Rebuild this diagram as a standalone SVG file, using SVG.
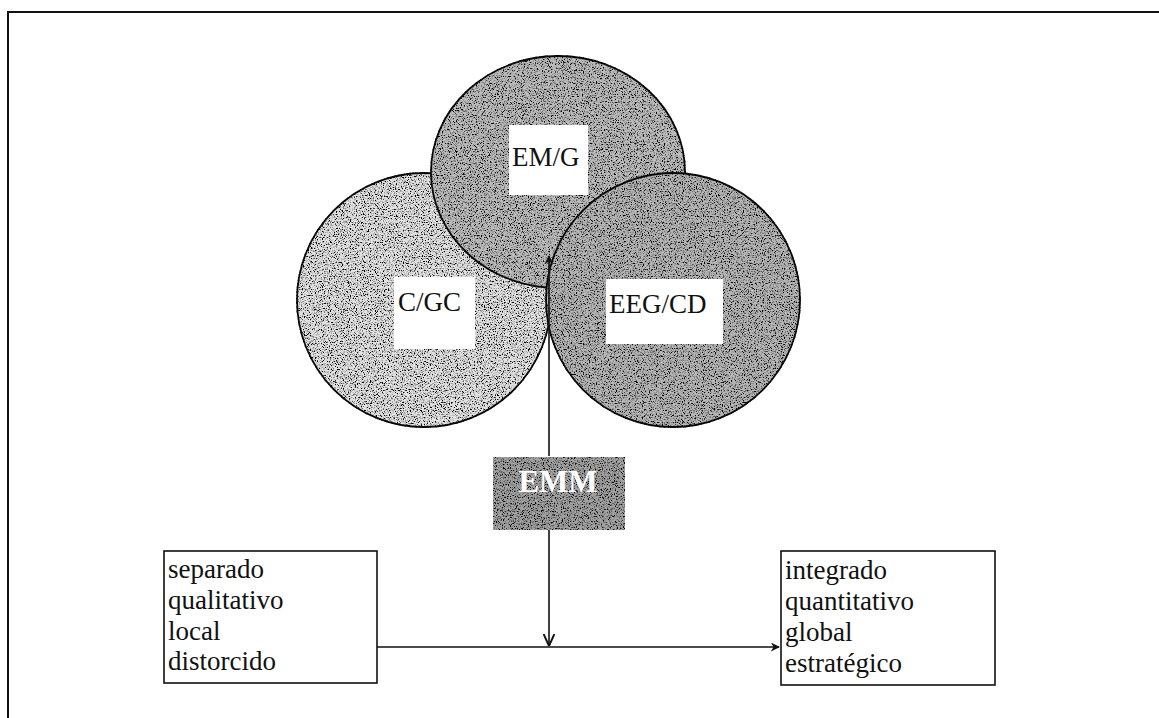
<svg xmlns="http://www.w3.org/2000/svg" width="1159" height="718" viewBox="0 0 1159 718">
  <style>
    .lbl { font-family: "Liberation Serif", "Times New Roman", serif; font-size: 27px; fill: #111; }
    .box { fill: #ffffff; stroke: #111; stroke-width: 1.6; }
    .tag { fill: #ffffff; stroke: none; }
    .ring { stroke: #111; stroke-width: 1.8; }
    .wire { fill: none; stroke: #111; stroke-width: 1.6; }
    .emm { font-family: "Liberation Serif", "Times New Roman", serif; font-size: 31px; font-weight: bold; fill: #ffffff; }
  </style>
  <defs>
    <!-- speckled print texture for the shaded shapes -->
    <filter id="grain" x="-2%" y="-2%" width="104%" height="104%">
      <feTurbulence type="fractalNoise" baseFrequency="0.85" numOctaves="2" seed="7" result="noise"/>
      <feColorMatrix in="noise" type="matrix" values="0 0 0 0 0  0 0 0 0 0  0 0 0 0 0  5 0 0 0 -2.4" result="dots"/>
      <feComposite in="dots" in2="SourceGraphic" operator="in" result="spots"/>
      <feMerge>
        <feMergeNode in="SourceGraphic"/>
        <feMergeNode in="spots"/>
      </feMerge>
    </filter>
    <marker id="head" viewBox="0 0 10 10" refX="9" refY="5" markerWidth="9" markerHeight="9" markerUnits="userSpaceOnUse" orient="auto">
      <path d="M0,0 L10,5 L0,10 L3,5 Z" fill="#111"/>
    </marker>
    <marker id="vee" viewBox="0 0 10 10" refX="10" refY="5" markerWidth="12" markerHeight="12" markerUnits="userSpaceOnUse" orient="auto">
      <path d="M0,0.5 L10,5 L0,9.5" fill="none" stroke="#111" stroke-width="1.6"/>
    </marker>
  </defs>

  <!-- page frame -->
  <path d="M8,718 L8,12 L1159,12" fill="none" stroke="#111" stroke-width="2"/>

  <!-- overlapping sets -->
  <g id="cgc">
    <ellipse class="ring" cx="424" cy="300" rx="127" ry="127" fill="#e2e2e2" filter="url(#grain)"/>
    <rect class="tag" x="394" y="277" width="81" height="72"/>
    <text class="lbl" x="398" y="311">C/GC</text>
  </g>
  <g id="emg">
    <ellipse class="ring" cx="558" cy="172" rx="127" ry="116" fill="#bcbcbc" filter="url(#grain)"/>
    <rect class="tag" x="509" y="125" width="79" height="70"/>
    <text class="lbl" x="512" y="166">EM/G</text>
  </g>
  <g id="eegcd">
    <ellipse class="ring" cx="673" cy="300" rx="127" ry="127" fill="#b6b6b6" filter="url(#grain)"/>
    <rect class="tag" x="606" y="279" width="117" height="65"/>
    <text class="lbl" x="609" y="313">EEG/CD</text>
  </g>

  <!-- connectors -->
  <g id="connectors">
    <line class="wire" x1="549" y1="456" x2="549" y2="256" marker-end="url(#head)"/>
    <line class="wire" x1="549" y1="530" x2="549" y2="646" marker-end="url(#vee)"/>
    <line class="wire" x1="377" y1="647" x2="779" y2="647" marker-end="url(#head)"/>
  </g>

  <!-- central method -->
  <g id="emm">
    <rect x="493" y="457" width="132" height="73" fill="#a2a2a2" filter="url(#grain)"/>
    <text class="emm" x="558" y="492" text-anchor="middle">EMM</text>
  </g>

  <!-- starting characteristics -->
  <g id="before">
    <rect class="box" x="164" y="551" width="213" height="132"/>
    <text class="lbl" x="168" y="578">separado</text>
    <text class="lbl" x="168" y="609">qualitativo</text>
    <text class="lbl" x="168" y="640">local</text>
    <text class="lbl" x="168" y="670">distorcido</text>
  </g>

  <!-- resulting characteristics -->
  <g id="after">
    <rect class="box" x="781" y="551" width="214" height="134"/>
    <text class="lbl" x="785" y="579">integrado</text>
    <text class="lbl" x="785" y="610">quantitativo</text>
    <text class="lbl" x="785" y="641">global</text>
    <text class="lbl" x="785" y="672">estratégico</text>
  </g>
</svg>
